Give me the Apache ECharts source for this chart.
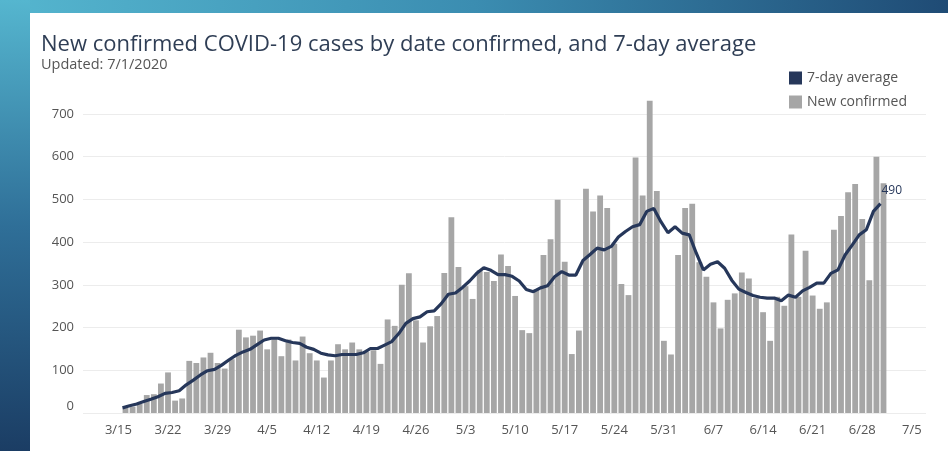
<!DOCTYPE html>
<html>
<head>
<meta charset="utf-8">
<script src="https://cdn.jsdelivr.net/npm/echarts@6/dist/echarts.min.js"></script>
<style>
  html, body { margin: 0; padding: 0; }
  body { width: 948px; height: 451px; position: relative; overflow: hidden; background: #fff; }
  #frameTop { position: absolute; left: 0; top: 0; width: 948px; height: 13px;
    background: linear-gradient(to right, #55b6cf, #3b8db1 50%, #1f4b75); }
  #frameLeft { position: absolute; left: 0; top: 0; width: 30px; height: 451px;
    background: linear-gradient(to bottom, #55b6cf, #2f6f98 50%, #1b3d64); }
  #chart { position: absolute; left: 0; top: 0; width: 948px; height: 451px; }
</style>
</head>
<body>
<div id="frameTop"></div>
<div id="frameLeft"></div>
<div id="chart"></div>
<script>
// axis runs 3/10 .. 7/7, data 3/16 .. 7/1
const axisStart = new Date(2020, 2, 10);
const axisDays = 120;
const dataOffset = 6;

const tickLabels = ['3/15', '3/22', '3/29', '4/5', '4/12', '4/19', '4/26', '5/3', '5/10',
  '5/17', '5/24', '5/31', '6/7', '6/14', '6/21', '6/28', '7/5'];

// new confirmed cases per day, 3/16 .. 7/1
const newConfirmed = [
  12, 15, 21, 42, 44, 69, 95, 29, 34, 122, 117, 130, 141, 117, 104, 126,
  195, 177, 181, 193, 149, 173, 133, 172, 123, 179, 140, 123, 83, 123, 161, 149, 165, 149, 144, 147,
  115, 219, 204, 300, 327, 217, 165, 203, 227, 328,
  458, 342, 297, 267, 334, 330, 309, 371, 344, 274, 194, 187, 290, 370, 407, 499, 354, 138, 193,
  525, 472, 509, 480, 396, 302, 276, 598, 509, 731, 520, 169,
  137, 370, 480, 490, 353, 319, 259, 198, 265, 280, 329, 315, 269, 236, 169, 272, 251, 418, 272,
  380, 275, 244, 259, 429, 461, 517, 536, 454, 311, 600,
  538
];

// 7-day average, 3/16 .. 7/1
const avg7 = [
  12, 17, 21, 27, 32, 38, 46, 48, 52, 66, 77, 89, 99, 102, 112, 124,
  135, 143, 149, 160, 171, 175, 175, 169, 165, 163, 154, 149, 140, 136, 134, 137, 137, 137, 141, 151,
  151, 159, 167, 186, 210, 221, 225, 237, 239, 256,
  278, 281, 294, 309, 327, 340, 334, 324, 324, 320, 309, 289, 284, 293, 298, 319, 331, 323, 323,
  357, 371, 386, 382, 390, 412, 425, 436, 441, 472, 479, 448,
  422, 436, 421, 417, 374, 335, 348, 354, 339, 311, 290, 282, 275, 271, 269, 269, 263, 276, 271,
  286, 294, 304, 304, 327, 335, 370, 393, 417, 429, 472,
  490
];

const categories = [];
for (let i = 0; i < axisDays; i++) {
  const d = new Date(axisStart.getFullYear(), axisStart.getMonth(), axisStart.getDate() + i);
  categories.push((d.getMonth() + 1) + '/' + d.getDate());
}

function pad(arr) {
  const out = new Array(axisDays).fill(null);
  arr.forEach((v, i) => { out[i + dataOffset] = v; });
  return out;
}

const chart = echarts.init(document.getElementById('chart'), null, { renderer: 'canvas' });

const font = '"Open Sans", "Noto Sans", sans-serif';

// the average line sits a little left of the bars in the original
const lineShift = 3;

const option = {
  animation: false,
  textStyle: { fontFamily: font },
  title: {
    text: 'New confirmed COVID-19 cases by date confirmed, and 7-day average',
    subtext: 'Updated: 7/1/2020',
    left: 36,
    top: 29,
    itemGap: 1,
    textStyle: { color: '#2f3e55', fontSize: 22, fontWeight: 'normal', fontFamily: font },
    subtextStyle: { color: '#555', fontSize: 14.5, fontFamily: font }
  },
  legend: {
    orient: 'vertical',
    left: 784,
    top: 66,
    itemWidth: 13,
    itemHeight: 13,
    itemGap: 10,
    icon: 'rect',
    textStyle: { color: '#555', fontSize: 14, fontFamily: font },
    data: ['7-day average', 'New confirmed']
  },
  grid: [
    { left: 83, right: 22, top: 114, bottom: 38 },
    { left: 83 - lineShift, right: 22 + lineShift, top: 114, bottom: 38 }
  ],
  xAxis: [
    {
      type: 'category',
      data: categories,
      boundaryGap: false,
      axisLine: { show: false },
      axisTick: { show: false },
      axisLabel: {
        color: '#555',
        fontSize: 13,
        margin: 11,
        interval: (idx, val) => tickLabels.indexOf(val) >= 0
      },
      splitLine: { show: false }
    },
    {
      type: 'category',
      gridIndex: 1,
      data: categories,
      boundaryGap: false,
      show: false
    }
  ],
  yAxis: [
    {
      type: 'value',
      min: 0,
      max: 700,
      interval: 100,
      axisLine: { show: false },
      axisTick: { show: false },
      axisLabel: {
        color: '#555',
        fontSize: 13,
        margin: 9,
        formatter: v => v === 0 ? '{z|0}' : String(v),
        rich: { z: { color: '#555', fontSize: 13, padding: [0, 0, 14, 0] } }
      },
      splitLine: { lineStyle: { color: '#ececec', width: 1 } }
    },
    {
      type: 'value',
      gridIndex: 1,
      min: 0,
      max: 700,
      interval: 100,
      show: false,
      splitLine: { show: false }
    }
  ],
  series: [
    {
      name: 'New confirmed',
      type: 'bar',
      data: pad(newConfirmed),
      barWidth: 5.8,
      clip: false,
      itemStyle: { color: '#a6a6a6' },
      z: 2
    },
    {
      name: '7-day average',
      type: 'line',
      xAxisIndex: 1,
      yAxisIndex: 1,
      data: pad(avg7),
      showSymbol: false,
      symbol: 'none',
      clip: false,
      lineStyle: { color: '#26375a', width: 3.2 },
      itemStyle: { color: '#26375a' },
      endLabel: {
        show: true,
        formatter: '{c}',
        offset: [-7, -13],
        color: '#26375a',
        fontSize: 12,
        fontFamily: font
      },
      z: 3
    }
  ]
};

chart.setOption(option);
</script>
</body>
</html>
